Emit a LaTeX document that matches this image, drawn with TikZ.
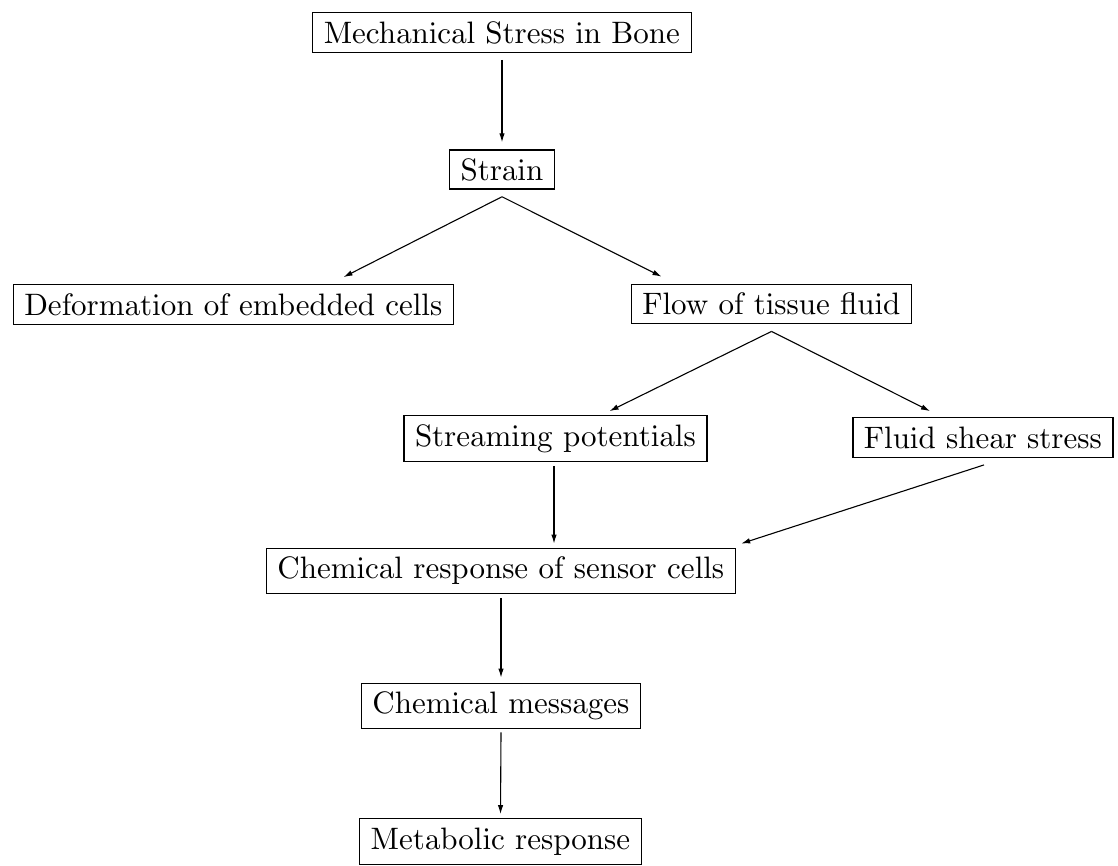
\documentclass[tikz,border=0pt]{standalone}
\usetikzlibrary{arrows.meta}
\font\diagfont=cmr10 at 31pt
\begin{document}
\begin{tikzpicture}[x=1pt,y=-1pt,
  box/.style={draw,line width=1.3pt,inner xsep=11pt,inner ysep=9pt,font=\diagfont},
  arr/.style={line width=1.1pt,-{Latex[length=9pt,width=5.5pt]}}]
\useasboundingbox (0,0) rectangle (1118,865);
\node[box] (mech) at (502,32.5) {Mechanical Stress in Bone};
\node[box] (strain) at (502,169.5) {Strain};
\node[box] (deform) at (233.5,304.5) {Deformation of embedded cells};
\node[box] (flow) at (771.5,304) {Flow of tissue fluid};
\node[box] (stream) at (555.5,438.5) {Streaming potentials};
\node[box] (fluid) at (983,437.5) {Fluid shear stress};
\node[box] (chem) at (501,571) {Chemical response of sensor cells};
\node[box] (msg) at (501,706) {Chemical messages};
\node[box] (meta) at (500.5,841.5) {Metabolic response};
\draw[arr] ([yshift=-7pt]mech.south) -- ([yshift=7pt]strain.north);
\draw[arr] ([yshift=-7pt]strain.south) -- ([xshift=110pt,yshift=7pt]deform.north);
\draw[arr] ([yshift=-7pt]strain.south) -- ([xshift=-110pt,yshift=7pt]flow.north);
\draw[arr] ([yshift=-7pt]flow.south) -- ([xshift=54pt,yshift=4pt]stream.north);
\draw[arr] ([yshift=-7pt]flow.south) -- ([xshift=-53pt,yshift=6pt]fluid.north);
\draw[arr] ([xshift=-1.5pt,yshift=-4pt]stream.south) -- ([xshift=53pt,yshift=4pt]chem.north);
\draw[arr] ([xshift=1pt,yshift=-7pt]fluid.south) -- ([xshift=5pt,yshift=4pt]chem.north east);
\draw[arr] ([yshift=-4pt]chem.south) -- ([yshift=5pt]msg.north);
\draw[arr] ([yshift=-3pt]msg.south) -- ([yshift=4pt]meta.north);
\end{tikzpicture}
\end{document}
